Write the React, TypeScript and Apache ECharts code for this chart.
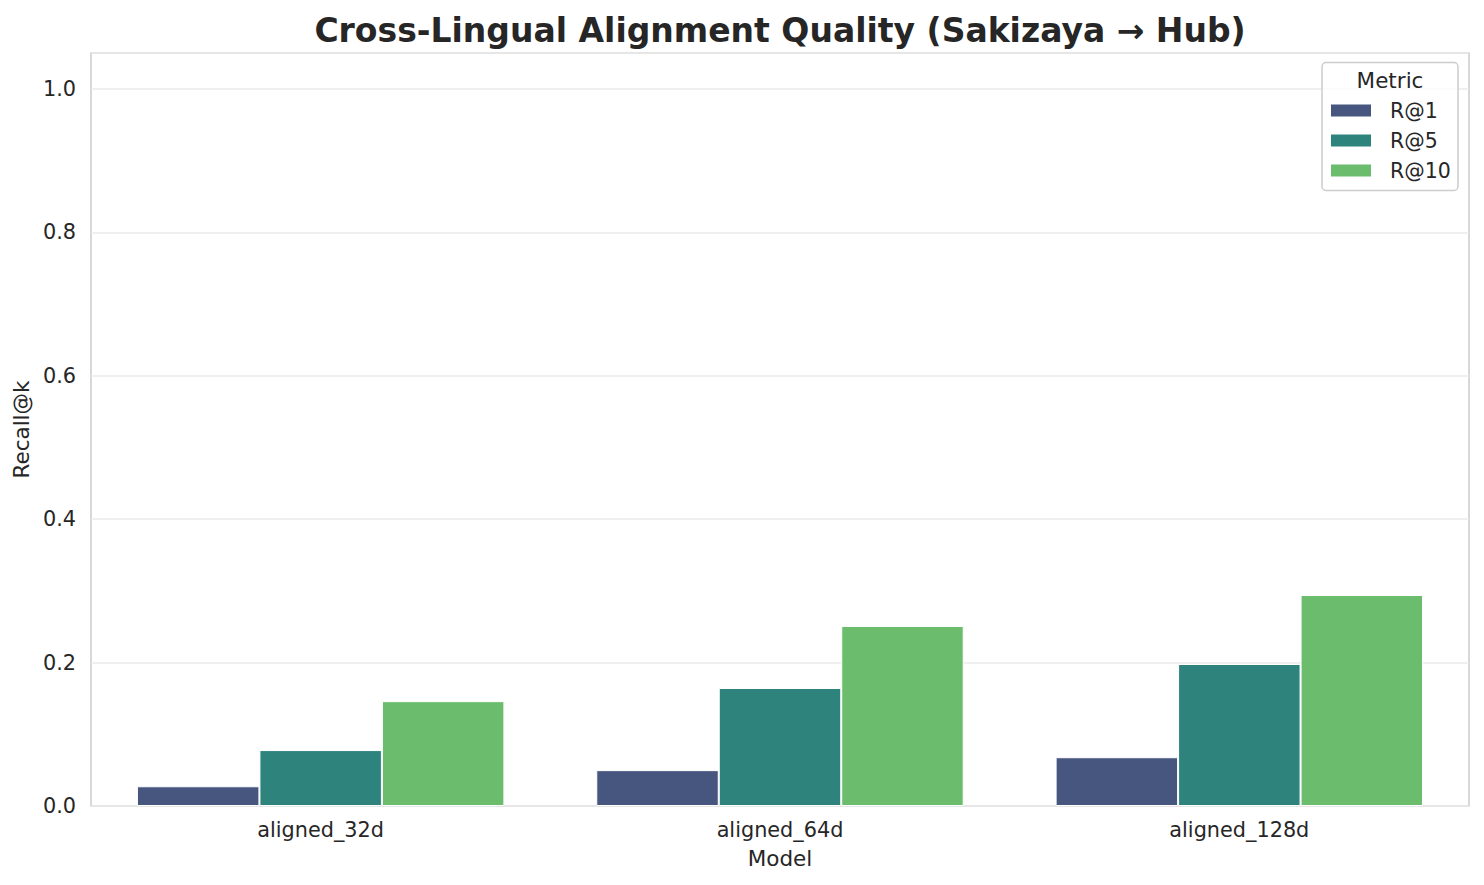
import React, { useEffect, useRef } from 'react';
import * as echarts from 'echarts';

const models = ['aligned_32d', 'aligned_64d', 'aligned_128d'];
const metrics = ['R@1', 'R@5', 'R@10'];
const recallAt1 = [0.0275, 0.05, 0.068];
const recallAt5 = [0.078, 0.1645, 0.198];
const recallAt10 = [0.1462, 0.251, 0.2942];
const metricColors = ['#46567f', '#2e837d', '#6bbd6d'];

const FONT = '"DejaVu Sans", "Noto Sans", sans-serif';
const TEXT = '#262626';

const App: React.FC = () => {
  const chartRef = useRef<HTMLDivElement | null>(null);

  useEffect(() => {
    let chart: echarts.ECharts | null = null;
    if (chartRef.current) {
      chart = echarts.init(chartRef.current, undefined, { renderer: 'svg' });
      const values = [recallAt1, recallAt5, recallAt10];

      const option = {
        animation: false,
        backgroundColor: '#ffffff',
        textStyle: { fontFamily: FONT, color: TEXT },
        grid: {
          left: 91,
          right: 15,
          top: 53,
          bottom: 79,
          show: true,
          borderColor: '#cccccc',
          borderWidth: 1.5,
          backgroundColor: 'transparent',
        },
        xAxis: {
          type: 'category',
          data: models,
          name: 'Model',
          nameLocation: 'middle',
          nameGap: 41,
          nameTextStyle: { fontSize: 21.5, color: TEXT, fontFamily: FONT },
          axisLine: { show: false },
          axisTick: { show: false },
          axisLabel: { fontSize: 20.8, color: TEXT, fontFamily: FONT, margin: 13 },
          splitLine: { show: false },
        },
        yAxis: {
          type: 'value',
          min: 0,
          max: 1.05,
          interval: 0.2,
          name: 'Recall@k',
          nameLocation: 'middle',
          nameGap: 55,
          nameTextStyle: { fontSize: 21.5, color: TEXT, fontFamily: FONT },
          axisLine: { show: false },
          axisTick: { show: false },
          axisLabel: {
            fontSize: 20.8,
            color: TEXT,
            fontFamily: FONT,
            margin: 15,
            showMaxLabel: false,
            formatter: (v: number) => (v > 1.0001 ? '' : v.toFixed(1)),
          },
          splitLine: { show: true, lineStyle: { color: '#ebebeb', width: 1.5 } },
        },
        legend: {
          orient: 'vertical',
          left: 1331,
          top: 100,
          padding: 0,
          itemWidth: 40,
          itemHeight: 12,
          itemGap: 9,
          icon: 'rect',
          data: metrics,
          textStyle: {
            fontSize: 20.5,
            color: TEXT,
            fontFamily: FONT,
            lineHeight: 20,
            padding: [0, 0, 0, 14],
          },
          itemStyle: { borderWidth: 0 },
        },
        graphic: [
          {
            type: 'text',
            x: 780,
            y: 30,
            style: {
              text: 'Cross-Lingual Alignment Quality (Sakizaya → Hub)',
              font: `bold 33px ${FONT}`,
              fill: TEXT,
              textAlign: 'center',
              textVerticalAlign: 'middle',
            },
          },
          {
            type: 'rect',
            shape: { x: 1322, y: 62.5, width: 136, height: 128, r: 4 },
            style: { fill: 'rgba(255,255,255,0.8)', stroke: '#cccccc', lineWidth: 1.5 },
            z: 1,
          },
          {
            type: 'text',
            x: 1390,
            y: 80,
            style: {
              text: 'Metric',
              font: `21.5px ${FONT}`,
              fill: TEXT,
              textAlign: 'center',
              textVerticalAlign: 'middle',
            },
            z: 2,
          },
        ],
        series: metrics.map((m, i) => ({
          name: m,
          type: 'bar',
          data: values[i],
          barGap: '0%',
          barCategoryGap: '20%',
          itemStyle: { color: metricColors[i], borderColor: '#ffffff', borderWidth: 1 },
        })),
      };

      chart.setOption(option as any);
    }
    return () => {
      chart?.dispose();
    };
  }, []);

  return (
    <div
      ref={chartRef}
      style={{ position: 'fixed', left: 0, top: 0, width: 1484, height: 885 }}
    ></div>
  );
};

export default App;
